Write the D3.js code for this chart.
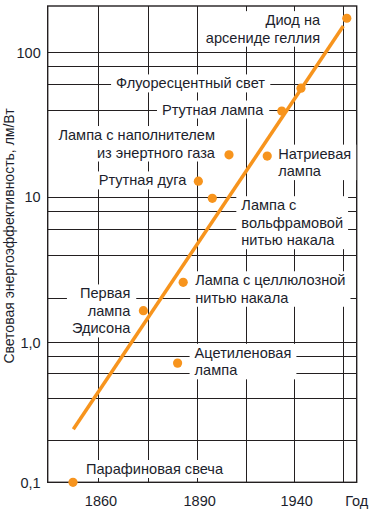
<!DOCTYPE html>
<html><head><meta charset="utf-8">
<script src="https://cdn.jsdelivr.net/npm/d3@7"></script>
<style>
html,body{margin:0;padding:0;background:#fff;}
svg{display:block;font-family:"Liberation Sans",Arial,sans-serif;}
</style></head>
<body>
<svg id="chart" width="372" height="511"></svg>
<script>
// ---- data ----
const pointNames = [
  ["Парафиновая свеча"],
  ["Ацетиленовая", "лампа"],
  ["Первая", "лампа", "Эдисона"],
  ["Лампа с целлюлозной", "нитью накала"],
  ["Лампа с", "вольфрамовой", "нитью накала"],
  ["Ртутная дуга"],
  ["Лампа с наполнителем", "из энертного газа"],
  ["Натриевая", "лампа"],
  ["Ртутная лампа"],
  ["Флуоресцентный свет"],
  ["Диод на", "арсениде геллия"]
];
const pointYears  = [1852.3, 1884.1, 1873.7, 1885.8, 1897.9, 1890.7, 1906.5, 1926.2, 1933.7, 1943.6, 1967.2];
const pointValues = [0.1, 0.71, 1.65, 2.58, 9.75, 12.8, 19.5, 19.1, 39.2, 56.4, 172];
const trendYears  = [1852.4, 1965.4];
const trendValues = [0.239, 152];
const xTickYears  = [1860, 1890, 1940];
const xTickLabels = ["1860", "1890", "1940"];
const xGridYears  = [1860, 1875, 1890, 1915, 1940, 1965];
const yTickValues = [0.1, 1, 10, 100];
const yTickLabels = ["0,1", "1,0", "10", "100"];
const yGridValues = [0.2, 0.4, 0.6, 0.8, 1, 2, 4, 6, 8, 10, 40, 60, 80, 100];
const yTitle = "Световая энергоэффективность, лм/Вт";
const xTitle = "Год";

// ---- layout (label placement relative to dot, px) ----
const labelLayout = [
  {dx: 13, dy: -13.5, anchor: "start"},
  {dx: 17, dy: -10.5, anchor: "start"},
  {dx: -13, dy: -17.4, anchor: "end"},
  {dx: 12, dy: -2.3, anchor: "start"},
  {dx: 29, dy: 6.7, anchor: "start"},
  {dx: -12, dy: -1, anchor: "end"},
  {dx: -14, dy: -20, anchor: "end"},
  {dx: 11, dy: -2.7, anchor: "start"},
  {dx: -18.4, dy: -1.7, anchor: "end"},
  {dx: -36, dy: -5, anchor: "end"},
  {dx: -26.7, dy: 1.7, anchor: "end"}
];
const lineH = 17.5;
const labelSize = 14.6;
const L = 47.7, R = 356.7, T = 6, B = 482.3;
const ink = "#231F20", orange = "#F7941D", textCol = "#1c1e2c";

const svg = d3.select("#chart");

const x = d3.scaleLinear()
  .domain([1844.6, 1860, 1890, 1940, 1972.3])
  .range([L, 98.3, 197, 294, R]);
const y = d3.scaleLog()
  .domain([0.1, 1, 10, 100, 209])
  .range([B, 342.3, 196.7, 52.3, T]);

// grid
const gGrid = svg.append("g").attr("shape-rendering", "crispEdges");
gGrid.append("g").attr("transform", `translate(${L},0)`)
  .call(d3.axisLeft(y).tickValues(yGridValues).tickSize(-(R - L)).tickFormat(""))
  .call(g => g.select(".domain").remove())
  .call(g => g.selectAll("line").attr("stroke", ink).attr("stroke-width", 1));
gGrid.append("g").attr("transform", `translate(0,${B})`)
  .call(d3.axisBottom(x).tickValues(xGridYears).tickSize(-(B - T)).tickFormat(""))
  .call(g => g.select(".domain").remove())
  .call(g => g.selectAll("line").attr("stroke", ink).attr("stroke-width", 1));

// frame
svg.append("rect").attr("x", L).attr("y", T).attr("width", R - L).attr("height", B - T)
  .attr("fill", "none").attr("stroke", ink).attr("stroke-width", 1.4);

// axis labels
svg.append("g").attr("transform", `translate(${L},0)`)
  .call(d3.axisLeft(y).tickValues(yTickValues).tickSize(0).tickPadding(7)
    .tickFormat((d, i) => yTickLabels[i]))
  .call(g => g.select(".domain").remove())
  .call(g => g.selectAll("text").attr("font-size", 14.5).attr("fill", textCol)
    .attr("font-family", "Liberation Sans, Arial, sans-serif").attr("dy", "0.35em"));
svg.append("g").attr("transform", `translate(0,${B})`)
  .call(d3.axisBottom(x).tickValues(xTickYears).tickSize(0).tickPadding(13)
    .tickFormat((d, i) => xTickLabels[i]))
  .call(g => g.select(".domain").remove())
  .call(g => g.selectAll("text").attr("font-size", 14.5).attr("fill", textCol)
    .attr("font-family", "Liberation Sans, Arial, sans-serif").attr("dx", "0.15em"));
svg.append("text").attr("x", R).attr("y", 505.5).attr("text-anchor", "middle")
  .attr("font-size", 14.5).attr("fill", textCol).text(xTitle);
svg.append("text").attr("transform", `translate(14,236) rotate(-90)`)
  .attr("text-anchor", "middle").attr("font-size", 14).attr("fill", textCol).text(yTitle);

// labels with white backgrounds
const gLab = svg.append("g");
pointNames.forEach((lines, i) => {
  const lay = labelLayout[i];
  const px = x(pointYears[i]), py = y(pointValues[i]);
  const g = gLab.append("g");
  const bg = g.append("rect").attr("fill", "#fff");
  const t = g.append("text").attr("font-size", labelSize).attr("fill", textCol)
    .attr("text-anchor", lay.anchor);
  lines.forEach((s, k) => {
    t.append("tspan").attr("x", px + lay.dx).attr("y", py + lay.dy + 5.2 + k * lineH).text(s);
  });
  const bb = t.node().getBBox();
  bg.attr("x", bb.x - 5).attr("y", bb.y - 1).attr("width", bb.width + 10).attr("height", bb.height + 2);
});

// trend line
svg.append("path")
  .datum(trendYears.map((d, i) => [d, trendValues[i]]))
  .attr("d", d3.line().x(d => x(d[0])).y(d => y(d[1])))
  .attr("stroke", orange).attr("stroke-width", 3.5).attr("fill", "none");

// dots
svg.append("g").selectAll("circle")
  .data(pointYears.map((d, i) => [d, pointValues[i]]))
  .join("circle")
  .attr("cx", d => x(d[0])).attr("cy", d => y(d[1])).attr("r", 4.6)
  .attr("fill", orange);
</script>
</body></html>
